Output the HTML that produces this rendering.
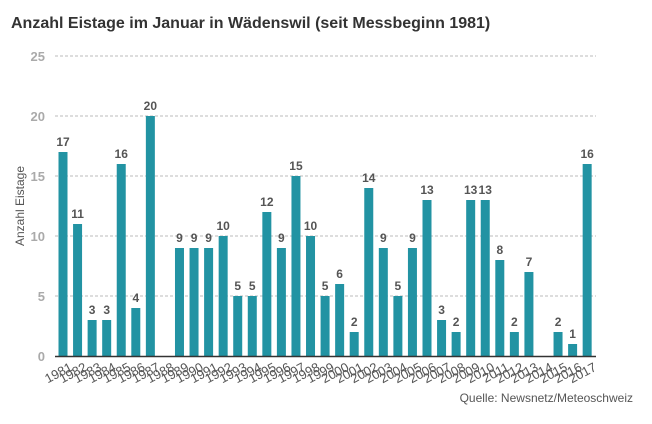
<!DOCTYPE html>
<html><head><meta charset="utf-8"><style>body{margin:0;background:#fff}</style></head><body>
<svg width="652" height="419" xmlns="http://www.w3.org/2000/svg" font-family="Liberation Sans, Arial, sans-serif">
<text x="11" y="28" font-size="16" font-weight="bold" fill="#333">Anzahl Eistage im Januar in Wädenswil (seit Messbeginn 1981)</text>
<g id="g"></g>
<text transform="translate(24,206) rotate(-90)" text-anchor="middle" font-size="12" fill="#555">Anzahl Eistage</text>
<text x="633" y="402" text-anchor="end" font-size="12" fill="#555">Quelle: Newsnetz/Meteoschweiz</text>
</svg>
<script>
var g=document.getElementById('g'),s='';
for(var i=0;i<=5;i++){var y=356-60*i;
 if(i>0)s+='<line x1="55" x2="596" y1="'+y+'" y2="'+y+'" stroke="#bbb" stroke-dasharray="3,2" stroke-width="1"/>';
 s+='<text x="45" y="'+(y+5)+'" text-anchor="end" font-size="13" font-weight="bold" fill="#aaa">'+(i*5)+'</text>';}
var v=[17,11,3,3,16,4,20,0,9,9,9,10,5,5,12,9,15,10,5,6,2,14,9,5,9,13,3,2,13,13,8,2,7,0,2,1,16];
for(var i=0;i<v.length;i++){var cx=63+i*14.56,h=v[i]*12;
 if(v[i]>0){s+='<rect x="'+(cx-4.5)+'" y="'+(356-h)+'" width="9" height="'+h+'" fill="#2293a3"/>';
 s+='<text x="'+cx+'" y="'+(350-h)+'" text-anchor="middle" font-size="12" font-weight="bold" fill="#555">'+v[i]+'</text>';}
 s+='<text transform="translate('+(cx+6)+',362) rotate(-28)" text-anchor="end" font-size="13" fill="#555" dy="9">'+(1981+i)+'</text>';}
s+='<line x1="55" x2="596" y1="356.5" y2="356.5" stroke="#333" stroke-width="1.5"/>';
g.innerHTML=s;
</script>
</body></html>
